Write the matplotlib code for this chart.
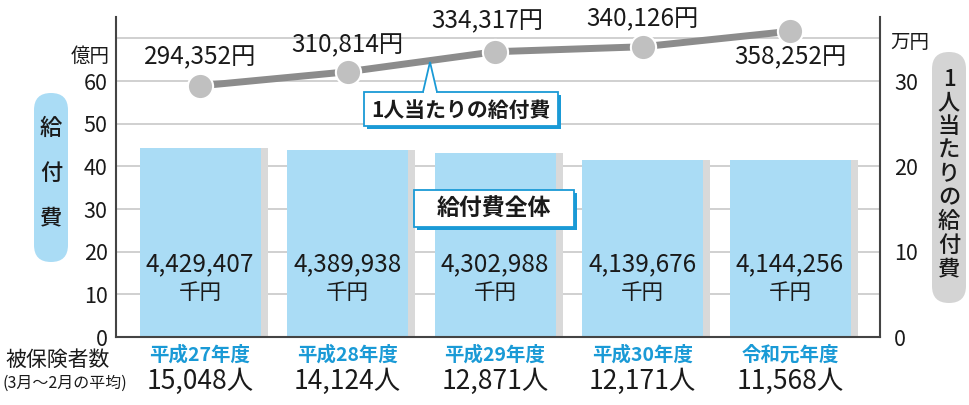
import matplotlib
matplotlib.use("Agg")
import matplotlib.pyplot as plt
from matplotlib.patches import FancyBboxPatch, Polygon, Rectangle
import numpy as np

plt.rcParams['font.family'] = ['Noto Sans CJK JP', 'DejaVu Sans']

years = ['平成27年度', '平成28年度', '平成29年度', '平成30年度', '令和元年度']
total_k = [4429407, 4389938, 4302988, 4139676, 4144256]   # 千円
per_person = [294352, 310814, 334317, 340126, 358252]    # 円
insured = [15048, 14124, 12871, 12171, 11568]            # 人

total_oku = [v / 100000 for v in total_k]      # 億円
per_man = [v / 10000 for v in per_person]      # 万円

W, H = 969, 405
fig = plt.figure(figsize=(W / 100, H / 100), dpi=100)
ax = fig.add_axes([116 / W, 1 - 337 / H, (880 - 116) / W, (337 - 17) / H])
ax2 = ax.twinx()

x = np.arange(len(years))
bw = 0.82
sh = 0.05
BLUE = '#aadcf5'
DBLUE = '#1a9ad6'
GREY = '#d9d9d9'
TXT = '#1a1a1a'

ax.set_xlim(-0.57, len(years) - 1 + 0.61)
ax.set_ylim(0, 75)
ax2.set_ylim(0, 37.5)

for g in range(0, 80, 10):
    ax.axhline(g, color='#c8c8c8', lw=1.2, zorder=0)

ax.bar(x + sh, total_oku, width=bw, color=GREY, zorder=1)
ax.bar(x, total_oku, width=bw, color=BLUE, zorder=2)

for xi, v in zip(x, total_k):
    ax.text(xi, 17.0, f'{v:,}', ha='center', va='center', fontsize=17.5, color=TXT, zorder=5)
    ax.text(xi, 10.3, '千円', ha='center', va='center', fontsize=15.5, color=TXT, zorder=5)

ax.set_yticks(range(0, 70, 10))
ax.tick_params(axis='y', length=0, labelsize=15.5, pad=6, colors=TXT)
ax.set_xticks([])
for s in ['top', 'right']:
    ax.spines[s].set_visible(False)
ax.spines['left'].set_color('#444444')
ax.spines['left'].set_linewidth(1.5)
ax.spines['bottom'].set_color('#444444')
ax.spines['bottom'].set_linewidth(1.5)

ax2.plot(x, per_man, color='#8c8c8c', lw=5, zorder=3, solid_capstyle='butt')
ax2.scatter(x, per_man, s=330, color='#c0c0c0', edgecolor='white', linewidths=1.5, zorder=4)
ax2.set_yticks([0, 10, 20, 30])
ax2.tick_params(axis='y', length=0, labelsize=15.5, pad=10, colors=TXT)
for s in ['top', 'left', 'bottom']:
    ax2.spines[s].set_visible(False)
ax2.spines['right'].set_color('#444444')
ax2.spines['right'].set_linewidth(1.5)
ax2.set_zorder(ax.get_zorder() + 1)
ax2.patch.set_visible(False)

lab_off = [(0, 3.3), (0, 3.1), (-0.05, 3.6), (0, 3.2), (0, -3.0)]
for xi, v, yv, (dx, dy) in zip(x, per_person, per_man, lab_off):
    ax2.text(xi + dx, yv + dy, f'{v:,}円', ha='center', va='center', fontsize=17.5,
             color=TXT, zorder=6)

# overlay in pixel coordinates for annotations
ov = fig.add_axes([0, 0, 1, 1])
ov.set_xlim(0, W)
ov.set_ylim(H, 0)
ov.axis('off')
ov.set_zorder(10)
ov.patch.set_visible(False)

# unit labels
ov.text(90, 56, '億円', ha='center', va='center', fontsize=14, color=TXT)
ov.text(910, 42, '万円', ha='center', va='center', fontsize=14, color=TXT)

# left pill
ov.add_patch(FancyBboxPatch((34, 93), 34, 169, boxstyle='round,pad=0,rounding_size=17',
                            facecolor=BLUE, edgecolor='none'))
for ch, py in zip('給付費', [128, 173, 218]):
    ov.text(51, py, ch, ha='center', va='center', fontsize=16, fontweight='medium', color=TXT)

# right pill
ov.add_patch(FancyBboxPatch((932, 52), 34, 251, boxstyle='round,pad=0,rounding_size=17',
                            facecolor='#d4d4d4', edgecolor='none'))
rtxt = '1人当たりの給付費'
for i, ch in enumerate(rtxt):
    ov.text(949, 79 + i * 23.8, ch, ha='center', va='center', fontsize=16, fontweight='medium',
            color=TXT)


def callbox(x0, y0, x1, y1, label, fs, pointer=None):
    ov.add_patch(Rectangle((x0 + 3, y0 + 3), x1 - x0, y1 - y0, facecolor=DBLUE,
                           edgecolor='none', zorder=8))
    ov.add_patch(Rectangle((x0, y0), x1 - x0, y1 - y0, facecolor='white', edgecolor=DBLUE,
                           lw=1.3, zorder=9))
    if pointer:
        bx0, bx1, tx, ty = pointer
        ov.add_patch(Polygon([(bx0, y0), (tx, ty), (bx1, y0)], closed=False,
                             facecolor='white', edgecolor=DBLUE, lw=1.3, zorder=10))
        ov.add_patch(Rectangle((bx0 + 1, y0 - 1), bx1 - bx0 - 2, 2.5, facecolor='white',
                               edgecolor='none', zorder=11))
    ov.text((x0 + x1) / 2, (y0 + y1) / 2 + 1, label, ha='center', va='center',
            fontsize=fs, fontweight='bold', color=TXT, zorder=12)


callbox(364, 92, 558, 126, '1人当たりの給付費', 15, pointer=(423, 437, 430, 62))
callbox(414, 190, 574, 227, '給付費全体', 16.5)

# bottom labels
ov.text(58, 360, '被保険者数', ha='center', va='center', fontsize=15, color=TXT)
ov.text(65, 383, '(3月～2月の平均)', ha='center', va='center', fontsize=11.5, color=TXT)
for xi, yr, n in zip(x, years, insured):
    px = ax.transData.transform((xi, 0))[0]
    ov.text(px, 355, yr, ha='center', va='center', fontsize=14, fontweight='bold', color=DBLUE)
    ov.text(px, 381, f'{n:,}人', ha='center', va='center', fontsize=19, color=TXT)

fig.savefig('out.png', dpi=100)
